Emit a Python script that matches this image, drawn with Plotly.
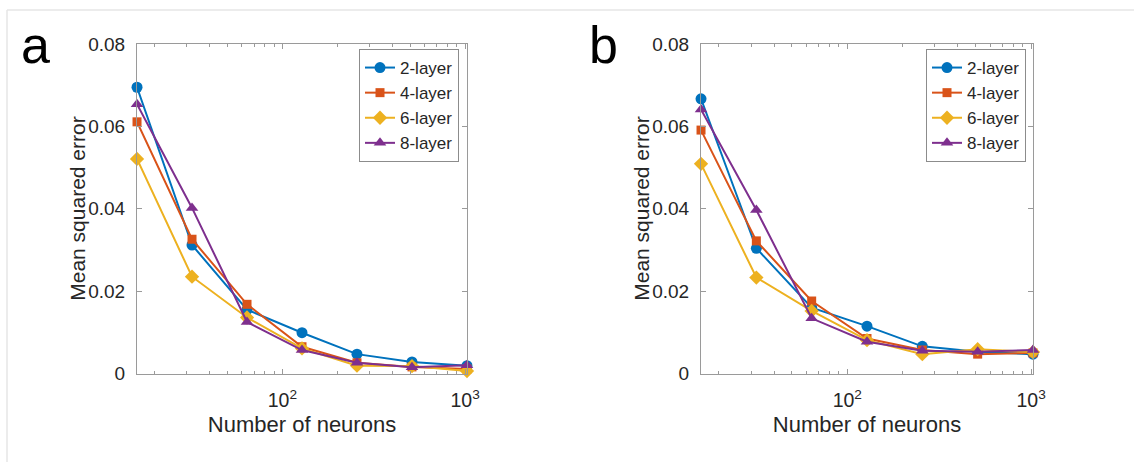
import math
import plotly.graph_objects as go

# Network width (number of neurons) on the log x axis
neurons = [16, 32, 64, 128, 256, 512, 1024]
series_names = ["2-layer", "4-layer", "6-layer", "8-layer"]

# Panel a: mean squared error per depth
mse_a_2 = [0.0695, 0.0312, 0.0155, 0.0099, 0.0047, 0.0028, 0.0019]
mse_a_4 = [0.0611, 0.0326, 0.0168, 0.0065, 0.0026, 0.0016, 0.0011]
mse_a_6 = [0.0521, 0.0235, 0.0136, 0.0061, 0.0019, 0.0018, 0.0006]
mse_a_8 = [0.0654, 0.0402, 0.0125, 0.0057, 0.0026, 0.0015, 0.0020]

# Panel b: mean squared error per depth
mse_b_2 = [0.0667, 0.0304, 0.0160, 0.0115, 0.0066, 0.0053, 0.0047]
mse_b_4 = [0.0591, 0.0322, 0.0176, 0.0085, 0.0057, 0.0047, 0.0050]
mse_b_6 = [0.0509, 0.0233, 0.0152, 0.0081, 0.0047, 0.0059, 0.0052]
mse_b_8 = [0.0641, 0.0397, 0.0134, 0.0077, 0.0055, 0.0053, 0.0057]

y_tickvals = [0, 0.02, 0.04, 0.06, 0.08]
y_ticktext = ["0", "0.02", "0.04", "0.06", "0.08"]
x_tickvals = [100, 1000]
x_ticktext = ["10<sup>2</sup>", "10<sup>3</sup>"]
x_minor = [20, 30, 40, 50, 60, 70, 80, 90, 200, 300, 400, 500, 600, 700, 800, 900]

colors = ["#0072BD", "#D95319", "#EDB120", "#7E2F8E"]
symbols = ["circle", "square", "diamond", "triangle-up"]
marker_sizes = [11, 9, 11, 11]

W, H = 1134, 462
FONT = "Liberation Sans, Arial, Helvetica, sans-serif"
TXT = "#262626"
AXC = "#9a9a9a"
EPS = 1e-4


def px_x(p):
    return p / W


def px_y(p):
    return (H - p) / H


fig = go.Figure()

panels = [
    ("x", "y", "legend", [mse_a_2, mse_a_4, mse_a_6, mse_a_8]),
    ("x2", "y2", "legend2", [mse_b_2, mse_b_4, mse_b_6, mse_b_8]),
]
for xa, ya, lg, sets in panels:
    for name, vals, c, s, ms in zip(series_names, sets, colors, symbols, marker_sizes):
        fig.add_trace(go.Scatter(
            x=neurons, y=vals, name=name, mode="lines+markers",
            xaxis=xa, yaxis=ya, legend=lg,
            line=dict(color=c, width=2),
            marker=dict(symbol=s, size=ms, color=c, line=dict(width=0)),
            cliponaxis=False,
        ))

common_x = dict(
    type="log", range=[math.log10(16) - EPS, math.log10(1024) + EPS],
    tickvals=x_tickvals, ticktext=x_ticktext,
    ticks="inside", ticklen=5, tickcolor=AXC, tickwidth=1,
    minor=dict(tickvals=x_minor, ticks="inside", ticklen=3, tickcolor=AXC, tickwidth=1),
    showline=True, linecolor=AXC, linewidth=1, mirror="ticks",
    showgrid=False, zeroline=False, automargin=False,
    tickfont=dict(family=FONT, size=19.5, color=TXT),
    ticklabelstandoff=9,
    title=dict(text="Number of neurons", font=dict(family=FONT, size=22, color=TXT), standoff=6),
)
common_y = dict(
    range=[0, 0.08], tickvals=y_tickvals, ticktext=y_ticktext,
    ticks="inside", ticklen=5, tickcolor=AXC, tickwidth=1,
    showline=True, linecolor=AXC, linewidth=1, mirror="ticks",
    showgrid=False, zeroline=False, automargin=False,
    tickfont=dict(family=FONT, size=19, color=TXT),
    ticklabelstandoff=7,
)

y_dom = [px_y(373.5), px_y(44)]
legend_style = dict(
    xanchor="left", yanchor="top",
    bgcolor="white", bordercolor="#8c8c8c", borderwidth=1,
    font=dict(family=FONT, size=17, color=TXT),
    tracegroupgap=0, itemwidth=30,
)
fig.update_layout(
    width=W, height=H,
    margin=dict(l=0, r=0, t=0, b=0, autoexpand=False),
    paper_bgcolor="white", plot_bgcolor="white",
    font=dict(family=FONT, color=TXT),
    xaxis=dict(common_x, domain=[px_x(137), px_x(467)], anchor="y"),
    yaxis=dict(common_y, domain=y_dom, anchor="x"),
    xaxis2=dict(common_x, domain=[px_x(701), px_x(1033)], anchor="y2"),
    yaxis2=dict(common_y, domain=y_dom, anchor="x2"),
    legend=dict(legend_style, x=px_x(359), y=px_y(49)),
    legend2=dict(legend_style, x=px_x(926), y=px_y(49)),
    showlegend=True,
)

# Y axis titles, placed beside the tick labels
y_mid = (y_dom[0] + y_dom[1]) / 2
for xp in (78, 642):
    fig.add_annotation(
        text="Mean squared error", xref="paper", yref="paper",
        x=px_x(xp), y=y_mid, xanchor="center", yanchor="middle",
        textangle=-90, showarrow=False,
        font=dict(family=FONT, size=21, color=TXT),
    )

# Panel letters
for letter, xp in (("a", 19), ("b", 587)):
    fig.add_annotation(
        text=letter, xref="paper", yref="paper",
        x=px_x(xp), y=px_y(76), xanchor="left", yanchor="bottom",
        showarrow=False, font=dict(family=FONT, size=52, color="black"),
    )

# Thin frame lines along the top and left edge of the figure
fig.add_shape(type="line", xref="paper", yref="paper",
              x0=px_x(7), x1=1, y0=px_y(10), y1=px_y(10),
              line=dict(color="#e6e6e6", width=1.5))
fig.add_shape(type="line", xref="paper", yref="paper",
              x0=px_x(7), x1=px_x(7), y0=0, y1=px_y(10),
              line=dict(color="#e6e6e6", width=1.5))

fig.write_html("out.html")
